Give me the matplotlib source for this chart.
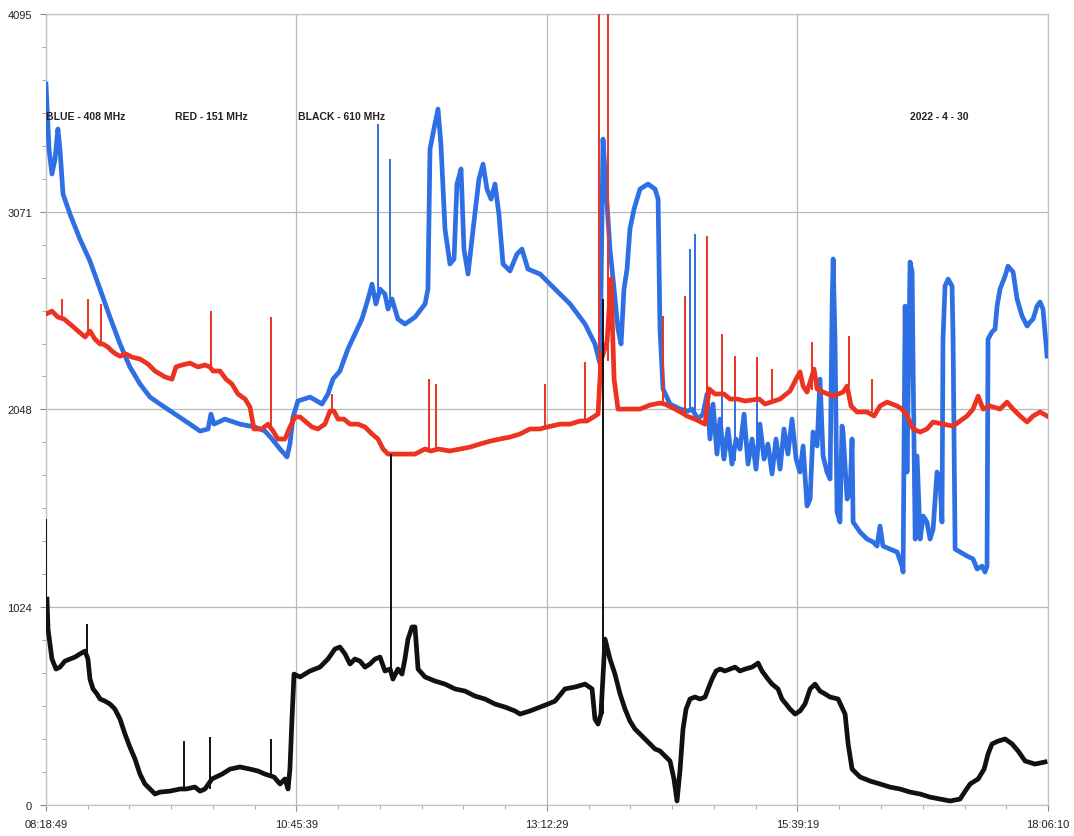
import numpy as np
import matplotlib
matplotlib.use("Agg")
import matplotlib.pyplot as plt
from matplotlib.ticker import MultipleLocator, FixedLocator

plt.rcParams['font.family'] = ['Liberation Sans', 'DejaVu Sans']

# time axis: minutes after 08:18:49
tick_minutes = [0, 146.83, 293.67, 440.5, 587.35]
tick_labels = ['08:18:49', '10:45:39', '13:12:29', '15:39:19', '18:06:10']
y_ticks = [0, 1024, 2048, 3071, 4095]

# BLUE - 408 MHz
blue_t = [0, 1.8, 3.5, 5.3, 7.0, 8.2, 10.0, 14.1, 19.9, 25.8, 31.7, 37.5, 43.4, 49.2, 55.1,
          61.0, 66.8, 75.6, 84.4, 90.3, 95.0, 96.7, 98.5, 104.9, 113.7, 122.5, 128.4, 132.5,
          137.2, 141.3, 143.0, 144.8, 147.7, 154.8, 161.8, 165.3, 168.2, 172.3, 177.0, 181.1,
          185.2, 188.8, 191.1, 193.4, 195.8, 198.7, 200.5, 202.8, 206.3, 210.4,
          216.3, 222.2, 223.9, 225.1, 227.4, 229.8, 231.5, 233.9, 236.8, 239.2, 240.9, 243.3,
          245.0, 247.4, 249.7, 252.1, 253.8, 256.2, 258.5, 260.9, 263.2, 265.5, 267.9, 272.0,
          276.1, 279.0, 282.5, 289.6, 298.4, 307.2, 316.0, 321.8, 324.8, 326.5, 328.3, 330.6,
          333.0, 335.3, 337.1, 338.8, 340.6, 342.3, 344.7, 348.2, 352.9, 357.0, 358.8, 359.9,
          361.7, 365.8, 371.7, 376.3, 378.7, 382.2, 385.1, 387.5, 389.2, 391.0,
          393.3, 395.1, 397.4, 399.8, 402.1, 404.5, 406.8, 409.2, 411.5, 413.9, 416.2, 418.5,
          420.9, 423.2, 425.6, 427.9, 430.3, 432.6, 434.9, 437.3, 439.7, 442.0, 443.8, 446.1,
          447.9, 449.6, 452.0, 453.7, 455.5, 457.8, 459.6, 460.8, 461.4, 462.5, 463.7, 465.4,
          466.6, 467.2, 469.6, 471.3, 472.5, 473.1, 477.2, 481.3, 484.8, 487.1, 488.9, 490.6,
          494.7, 498.9, 501.8, 502.4, 503.6, 504.7, 506.5, 507.7, 508.3, 509.5, 510.6, 512.4,
          514.2, 516.4, 518.2, 520.0, 522.3, 524.1, 525.2, 525.8, 527.0, 528.8, 531.1, 531.7,
          532.9, 535.8, 539.9, 543.4, 545.8, 548.7, 550.4, 551.6, 552.2, 554.5, 556.3, 557.5,
          559.2, 562.2, 563.9, 566.9, 569.2, 572.1, 575.1, 576.8, 578.6, 580.9, 582.7, 584.4,
          586.8]
blue_v = [3733, 3396, 3267, 3344, 3500, 3396, 3163, 3059, 2930, 2816, 2671, 2526, 2387, 2268, 2180,
          2112, 2076, 2024, 1972, 1936, 1947, 2024, 1972, 1998, 1972, 1957, 1936, 1895,
          1843, 1802, 1869, 2009, 2092, 2112, 2076, 2128, 2205, 2247, 2361, 2438,
          2516, 2620, 2697, 2594, 2671, 2645, 2568, 2620, 2516, 2490,
          2526, 2594, 2671, 3396, 3500, 3603, 3422, 2982, 2801, 2827, 3215, 3293,
          2878, 2749, 2930, 3111, 3241, 3318, 3189, 3137, 3215, 3059, 2801, 2765,
          2853, 2878, 2775, 2749, 2671, 2594, 2490, 2387, 2283, 3448, 3189, 2878,
          2671, 2464, 2387, 2671, 2775, 2982, 3085, 3189, 3215, 3189, 3137, 2464,
          2154, 2076, 2050, 2040, 2050, 1998, 2024, 2128, 1895, 2076,
          1817, 1998, 1791, 1947, 1765, 1895, 1843, 2024, 1765, 1895, 1739, 1972,
          1791, 1869, 1714, 1895, 1739, 1947, 1817, 1998, 1791, 1724, 1859, 1548,
          1584, 1931, 1859, 2205, 1807, 1724, 1688, 2583, 2827, 2412, 1517, 1465,
          1962, 1931, 1584, 1620, 1895, 1465, 1413, 1377, 1362, 1341, 1444, 1341,
          1325, 1310, 1237, 1206, 2583, 1724, 2811, 2759, 2242, 1377, 1807, 1377,
          1496, 1465, 1377, 1429, 1724, 1672, 1465, 2412, 2687, 2723, 2687, 2412,
          1325, 1310, 1289, 1274, 1222, 1237, 1206, 1237, 2412, 2449, 2464, 2583,
          2671, 2739, 2790, 2759, 2620, 2532, 2480, 2500, 2516, 2583, 2604, 2568,
          2324]
# narrow bursts: time, foot, top
blue_spike_t = [194.6, 201.7, 377.5, 380.4, 396.3, 404.0, 416.5]
blue_spike_lo = [2620, 2600, 2040, 2020, 1800, 1780, 1760]
blue_spike_hi = [3526, 3344, 2878, 2956, 2290, 2300, 2280]

# RED - 151 MHz
red_t = [0, 3.5, 7.0, 10.6, 14.1, 18.8, 22.9, 25.8, 28.7, 31.7, 33.4, 36.3,
         38.7, 41.0, 43.4, 46.9, 50.4, 55.1, 59.8, 63.9, 69.8, 73.9, 76.2, 79.7, 84.4, 89.1,
         93.2, 96.1, 97.9, 102.0, 105.5, 109.0, 112.5, 116.7, 119.6, 121.9, 126.6,
         130.1, 133.1, 135.9, 140.1, 143.0, 146.0, 148.9, 151.8, 155.9, 159.4, 163.5,
         166.5, 168.8, 171.2, 174.7, 178.2, 182.9, 187.0, 191.1, 194.6, 197.6, 200.5,
         204.6, 210.4, 216.3, 222.2, 225.7, 229.8, 236.8, 242.7, 248.5, 254.4,
         260.3, 266.1, 272.0, 277.9, 283.7, 289.6, 293.7, 301.3, 307.2, 313.0,
         317.1, 321.8, 323.6, 325.3, 328.9, 331.2, 333.0, 335.3, 339.4,
         348.2, 354.1, 359.9, 362.8, 368.7, 374.0, 375.7, 380.4, 386.3,
         388.7, 392.2, 397.4, 401.0, 405.1, 409.8, 418.0, 421.5,
         426.8, 430.3, 436.1, 439.7, 442.0, 443.8, 446.1, 450.2, 452.0, 455.5, 461.4,
         467.2, 469.6, 471.9, 475.4, 481.3, 485.4, 488.9, 493.0, 498.9, 501.8,
         504.7, 508.3, 512.4, 516.4, 520.0, 525.8, 531.7, 535.8, 539.9, 543.4, 546.4, 549.3,
         553.4, 559.2, 563.3, 566.9, 571.0, 575.1, 578.6, 582.7, 586.8]
red_v = [2542, 2557, 2526, 2516, 2490, 2454, 2423, 2454, 2412, 2387, 2387, 2371,
         2350, 2335, 2324, 2335, 2319, 2309, 2283, 2247, 2216, 2205, 2268, 2278, 2288, 2268,
         2278, 2268, 2247, 2247, 2205, 2180, 2128, 2102, 2060, 1947, 1947,
         1972, 1936, 1895, 1895, 1957, 2009, 2009, 1988, 1957, 1947, 1972,
         2040, 2040, 1998, 1998, 1972, 1972, 1957, 1921, 1895, 1843, 1817,
         1817, 1817, 1817, 1843, 1833, 1843, 1833, 1843, 1853, 1869,
         1884, 1895, 1905, 1921, 1947, 1947, 1957, 1972, 1972, 1988,
         1988, 2014, 2024, 2300, 2400, 2723, 2205, 2050, 2050,
         2050, 2071, 2081, 2076, 2050, 2024, 2014, 1998, 1972,
         2154, 2128, 2128, 2102, 2102, 2092, 2102, 2076,
         2092, 2102, 2143, 2205, 2242, 2169, 2138, 2257, 2154, 2138, 2117,
         2138, 2169, 2066, 2035, 2035, 2014, 2066, 2086, 2066, 2050,
         2014, 1947, 1931, 1947, 1983, 1972, 1962, 1988, 2014, 2050, 2117, 2050,
         2066, 2050, 2086, 2050, 2014, 1983, 2014, 2035, 2014]
red_spike_t = [9.4, 24.6, 32.2, 96.7, 131.9, 167.7, 224.5, 228.6, 292.5, 316.0, 324.2, 329.5,
               361.7, 374.6, 387.5, 396.3, 403.9, 416.8, 425.6, 449.0, 470.7, 484.2]
red_spike_lo = [2516, 2440, 2387, 2268, 1950, 2040, 1840, 1843, 1950, 1988, 2024, 2300,
                2080, 2020, 1972, 2128, 2102, 2100, 2092, 2150, 2169, 2035]
red_spike_hi = [2620, 2620, 2594, 2557, 2526, 2128, 2205, 2180, 2180, 2293, 4095, 4095,
                2532, 2635, 2946, 2438, 2324, 2319, 2257, 2397, 2428, 2205]

# BLACK - 610 MHz
black_t = [0.6, 1.2, 3.5, 5.9, 8.2, 11.1, 14.1, 17.0, 19.9, 22.9, 24.6, 25.8, 27.6,
           29.9, 31.7, 34.6, 37.5, 40.4, 43.4, 46.3, 49.2, 52.2, 55.1, 58.0, 61.0, 63.9, 66.8,
           72.7, 78.6, 82.1, 87.3, 90.3, 93.2, 97.3, 103.2, 107.9, 113.7, 119.6,
           124.3, 128.4, 133.7, 137.2, 140.1, 141.9, 143.0, 144.2, 145.4, 148.9, 154.8,
           160.6, 165.3, 169.4, 172.3, 175.3, 178.2, 181.1, 184.1, 187.0, 189.9, 192.9, 195.8,
           198.7, 201.7, 203.4, 206.3, 208.7, 210.4, 212.2, 214.6, 216.3, 218.1, 222.2,
           228.0, 233.9, 239.8, 245.6, 251.5, 257.3, 263.2, 269.1, 274.9, 277.9, 283.7, 289.6,
           294.3, 298.4, 304.2, 310.1, 316.0, 320.1, 321.8, 323.6, 325.3, 327.7, 330.6,
           333.5, 336.5, 339.4, 342.3, 345.3, 348.2, 351.1, 354.1, 357.0, 359.9, 362.8, 365.8,
           368.1, 369.9, 371.7, 373.4, 375.2, 377.5, 380.4, 383.4, 386.3, 388.1, 390.4, 392.8,
           395.1, 398.0, 401.0, 403.9, 406.8, 409.8, 413.9, 417.4, 419.7, 423.2, 425.6, 429.1,
           431.4, 433.8, 436.1, 439.1, 442.0, 444.9, 447.9, 450.8, 453.7, 456.7, 459.6, 464.3,
           468.4, 470.2, 472.5, 477.2, 483.1, 488.9, 494.7, 500.6, 506.5, 512.4, 518.2, 524.1,
           530.0, 535.8, 538.8, 541.7, 546.4, 549.9, 552.2, 554.5, 558.1, 562.2, 566.3, 569.8,
           573.9, 579.7, 585.6]
black_v = [1066, 911, 756, 704, 714, 745, 756, 766, 782, 797, 756, 652, 601,
           575, 549, 538, 523, 497, 445, 368, 300, 238, 160, 109, 83, 57, 67,
           72, 83, 83, 93, 72, 83, 135, 160, 186, 197, 186,
           176, 160, 145, 109, 135, 83, 186, 445, 678, 663, 694,
           714, 756, 808, 818, 782, 730, 756, 745, 714, 730, 756, 766,
           694, 704, 652, 704, 678, 756, 859, 922, 922, 704, 663,
           642, 626, 601, 590, 564, 549, 523, 507, 487, 471, 487, 507,
           523, 538, 601, 611, 626, 601, 445, 419, 471, 859, 756,
           678, 575, 497, 435, 393, 368, 342, 316, 290, 280, 254, 228,
           135, 21, 186, 393, 497, 549, 559, 549, 559, 601, 652, 694,
           704, 694, 704, 714, 694, 704, 714, 735, 694, 652, 626, 601,
           549, 523, 497, 471, 487, 523, 601, 626, 590, 575, 559, 549,
           471, 316, 186, 145, 124, 109, 93, 83, 67, 57, 41, 31,
           21, 31, 72, 109, 135, 186, 264, 316, 331, 342, 316, 280,
           228, 212, 223]
black_spike_t = [0.2, 24.0, 80.9, 96.1, 131.9, 202.2, 326.5]
black_spike_lo = [1066, 756, 83, 83, 150, 690, 471]
black_spike_hi = [1481, 937, 331, 352, 342, 1817, 2620]

fig = plt.figure(figsize=(10.74, 8.37), dpi=100)
ax = fig.add_axes([0.0428, 0.037, 0.933, 0.945])

series = [
    (blue_t, blue_v, blue_spike_t, blue_spike_lo, blue_spike_hi, '#2f6fe4', 3),
    (red_t, red_v, red_spike_t, red_spike_lo, red_spike_hi, '#ec3322', 4),
    (black_t, black_v, black_spike_t, black_spike_lo, black_spike_hi, '#111111', 5),
]
for t, v, st, slo, shi, col, z in series:
    ax.plot(t, v, color=col, linewidth=3.4, solid_joinstyle='round', zorder=z)
    ax.vlines(st, slo, shi, color=col, linewidth=1.4, zorder=z)

ax.set_xlim(0, 587.35)
ax.set_ylim(0, 4095)
ax.xaxis.set_major_locator(FixedLocator(tick_minutes))
ax.set_xticklabels(tick_labels)
ax.xaxis.set_minor_locator(MultipleLocator(146.8375 / 6))
ax.yaxis.set_major_locator(FixedLocator(y_ticks))
ax.yaxis.set_minor_locator(MultipleLocator(1024 / 6))

ax.grid(True, which='major', color='#b8b8b8', linewidth=0.9)
ax.set_axisbelow(True)
for s in ax.spines.values():
    s.set_color('#c0c0c8')
    s.set_linewidth(0.9)

ax.tick_params(which='major', length=4, color='#888888', labelsize=8, pad=6)
ax.tick_params(which='minor', length=3, color='#999999')
for lab in ax.get_xticklabels() + ax.get_yticklabels():
    lab.set_color('#222222')

labels_kw = dict(transform=ax.transAxes, fontsize=7.5, fontweight='bold', color='#222222', va='center')
ax.text(0.0, 0.871, 'BLUE - 408 MHz', **labels_kw)
ax.text(0.129, 0.871, 'RED - 151 MHz', **labels_kw)
ax.text(0.2515, 0.871, 'BLACK - 610 MHz', **labels_kw)
ax.text(0.862, 0.871, '2022 - 4 - 30', **labels_kw)

plt.savefig('out.png', dpi=100)
plt.close()
